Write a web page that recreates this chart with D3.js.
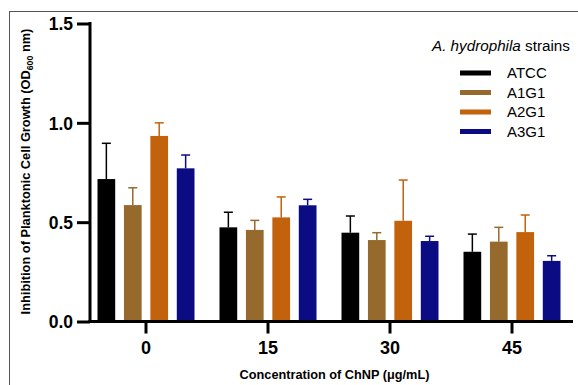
<!DOCTYPE html>
<html><head><meta charset="utf-8">
<script src="https://cdn.jsdelivr.net/npm/d3@7"></script>
<style>
html,body{margin:0;padding:0;background:#fff;}
svg{display:block;font-family:Arial,"Liberation Sans",sans-serif;}
</style></head>
<body>
<svg id="chart" width="578" height="385"></svg>
<script>
const categories = ["0", "15", "30", "45"];
const series = ["ATCC", "A1G1", "A2G1", "A3G1"];
const colors = ["#000000", "#956A2C", "#C2620C", "#0B0B84"];
const values = {
  ATCC: [0.717, 0.474, 0.447, 0.351],
  A1G1: [0.586, 0.461, 0.410, 0.402],
  A2G1: [0.934, 0.524, 0.507, 0.450],
  A3G1: [0.771, 0.585, 0.405, 0.305]
};
const errors = {
  ATCC: [0.180, 0.076, 0.084, 0.089],
  A1G1: [0.087, 0.048, 0.037, 0.072],
  A2G1: [0.066, 0.103, 0.205, 0.086],
  A3G1: [0.067, 0.030, 0.024, 0.026]
};
const yTicks = [0, 0.5, 1.0, 1.5];

const svg = d3.select("#chart");
function fit(sel, target){
  const w = sel.node().getComputedTextLength();
  const fs = parseFloat(sel.attr("font-size"));
  sel.attr("font-size", fs*target/w);
  sel.selectAll("tspan").each(function(){
    const t = d3.select(this); const f = t.attr("font-size");
    if (f) t.attr("font-size", parseFloat(f)*target/w);
  });
}
// frame lines
svg.append("line").attr("x1",9.5).attr("x2",9.5).attr("y1",11).attr("y2",385).attr("stroke","#555").attr("stroke-width",1);
svg.append("line").attr("x1",9).attr("x2",578).attr("y1",11.5).attr("y2",11.5).attr("stroke","#555").attr("stroke-width",1);

const y = d3.scaleLinear().domain([0,1.5]).range([321.5,23.5]);
const x0 = d3.scaleBand().domain(categories).range([85,573]);
const x1 = d3.scaleBand().domain(series).range([-48.5,48.5]).paddingInner(0.33);

// bars
series.forEach((s,si)=>{
  const g = svg.append("g");
  categories.forEach((c,ci)=>{
    const cx = x0(c)+x0.bandwidth()/2;
    const bx = cx + x1(s);
    const v = values[s][ci], e = errors[s][ci];
    g.append("rect").attr("x",bx).attr("y",y(v)).attr("width",x1.bandwidth()).attr("height",y(0)-y(v)).attr("fill",colors[si]);
    const mx = bx + x1.bandwidth()/2;
    g.append("line").attr("x1",mx).attr("x2",mx).attr("y1",y(v)).attr("y2",y(v+e)).attr("stroke",colors[si]).attr("stroke-width",1.5);
    g.append("line").attr("x1",mx-4.5).attr("x2",mx+4.5).attr("y1",y(v+e)).attr("y2",y(v+e)).attr("stroke",colors[si]).attr("stroke-width",1.5);
  });
});

// y axis
const yAxis = d3.axisLeft(y).tickValues(yTicks).tickFormat(d3.format(".1f")).tickSize(13).tickSizeOuter(0);
const ya = svg.append("g").attr("transform","translate(90,0)").call(yAxis);
ya.select(".domain").attr("stroke","#000").attr("stroke-width",3).attr("d","M0,"+(y(1.5)-1.5)+"V"+(y(0)+1.5));
ya.selectAll(".tick line").attr("stroke","#000").attr("stroke-width",3);
ya.selectAll(".tick text").attr("font-size",17.5).attr("font-weight","bold").attr("fill","#000").attr("x",-17).attr("dy","0.36em")
  .attr("font-family","Arial,'Liberation Sans',sans-serif");

// x axis
const xAxis = d3.axisBottom(x0).tickSize(12).tickSizeOuter(0);
const xa = svg.append("g").attr("transform","translate(0,"+y(0)+")").call(xAxis);
xa.select(".domain").attr("stroke","#000").attr("stroke-width",3).attr("d","M88.5,0H573");
xa.selectAll(".tick line").attr("stroke","#000").attr("stroke-width",3);
xa.selectAll(".tick text").attr("font-size",18).attr("font-weight","bold").attr("fill","#000").attr("y",20).attr("dy","0.71em")
  .attr("font-family","Arial,'Liberation Sans',sans-serif");

// axis titles
const yt = svg.append("text").attr("transform","translate(30,171.5) rotate(-90)").attr("text-anchor","middle")
  .attr("font-size",11).attr("font-weight","bold").attr("fill","#000");
yt.append("tspan").text("Inhibition of Planktonic Cell Growth (OD");
yt.append("tspan").text("600").attr("font-size",7.5).attr("dy",3);
yt.append("tspan").text(" nm)").attr("dy",-3);
fit(yt, 286);

const xt = svg.append("text").attr("x",334.5).attr("y",379).attr("text-anchor","middle").attr("font-size",11).attr("font-weight","bold").attr("fill","#000")
  .text("Concentration of ChNP (\u03bcg/mL)");
fit(xt, 190);

// legend
const lt = svg.append("text").attr("x",432).attr("y",51).attr("font-size",13).attr("fill","#000");
lt.append("tspan").attr("font-style","italic").text("A. hydrophila");
lt.append("tspan").text(" strains");
fit(lt, 138);
series.forEach((s,i)=>{
  const ly = 73 + i*19.5;
  svg.append("rect").attr("x",460).attr("y",ly-2.5).attr("width",31).attr("height",5).attr("fill",colors[i]);
  svg.append("text").attr("x",507).attr("y",ly).attr("dy","0.36em").attr("font-size",15).attr("fill","#000").text(s);
});
</script>
</body></html>
